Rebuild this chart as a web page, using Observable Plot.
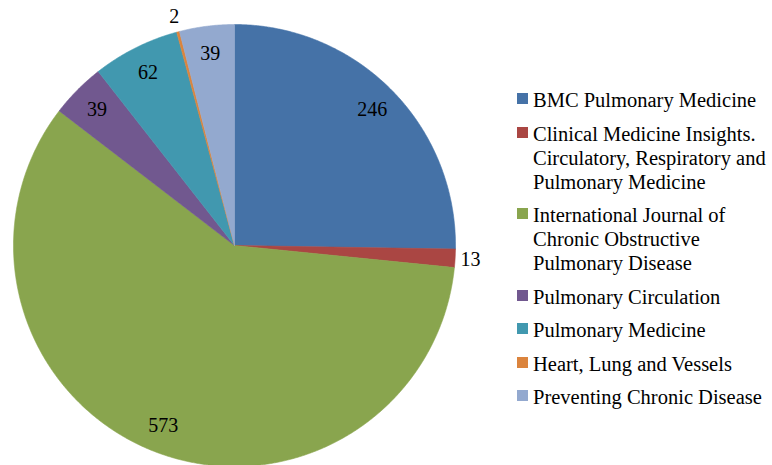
<!DOCTYPE html>
<html><head><meta charset="utf-8">
<script src="https://cdn.jsdelivr.net/npm/d3@7"></script>
<script src="https://cdn.jsdelivr.net/npm/@observablehq/plot@0.6"></script>
<style>
body{margin:0;background:#fff;}
#wrap{position:relative;width:772px;height:465px;overflow:hidden;font-family:"Liberation Serif",Tinos,"Times New Roman",Times,"DejaVu Serif",serif;}
#legend{position:absolute;left:517px;top:88px;color:#000;font-size:20.5px;font-family:"Liberation Serif",Tinos,"Times New Roman",Times,"DejaVu Serif",serif;}
.item{display:flex;align-items:flex-start;margin-bottom:9.5px;}
.sw{width:11px;height:11px;margin-top:5px;margin-right:5px;flex:none;}
.lbl{white-space:pre;line-height:24px;}
</style></head>
<body><div id="wrap"></div>
<script>
const journals = [
  "BMC Pulmonary Medicine",
  "Clinical Medicine Insights. Circulatory, Respiratory and Pulmonary Medicine",
  "International Journal of Chronic Obstructive Pulmonary Disease",
  "Pulmonary Circulation",
  "Pulmonary Medicine",
  "Heart, Lung and Vessels",
  "Preventing Chronic Disease"
];
const counts = [246, 13, 573, 39, 62, 2, 39];
const colors = ["#4572A7", "#AA4643", "#89A54E", "#71588F", "#4198AF", "#DB843D", "#93A9CF"];
const legendLabels = [
  "BMC Pulmonary Medicine",
  "Clinical Medicine Insights.\nCirculatory, Respiratory and\nPulmonary Medicine",
  "International Journal of\nChronic Obstructive\nPulmonary Disease",
  "Pulmonary Circulation",
  "Pulmonary Medicine",
  "Heart, Lung and Vessels",
  "Preventing Chronic Disease"
];

const W = 772, H = 465, cx = 234, cy = 245, R = 221;
const serif = "'Liberation Serif', Tinos, 'Times New Roman', Times, 'DejaVu Serif', serif";
const data = journals.map((name, i) => ({name, value: counts[i]}));
const arcs = d3.pie().sort(null).value(d => d.value).startAngle(0).endAngle(2 * Math.PI)(data);

const pts = [];
for (const a of arcs) {
  const name = a.data.name;
  pts.push({name, x: 0, y: 0});
  const n = Math.max(2, Math.ceil((a.endAngle - a.startAngle) / 0.005));
  for (let k = 0; k <= n; k++) {
    const t = a.startAngle + (a.endAngle - a.startAngle) * k / n;
    pts.push({name, x: Math.sin(t), y: -Math.cos(t)});
  }
  pts.push({name, x: 0, y: 0});
}
const labels = arcs.map(a => {
  const m = (a.startAngle + a.endAngle) / 2;
  const r = a.data.value >= 30 ? 0.875 : 1.07;
  return {x: r * Math.sin(m), y: -r * Math.cos(m), text: String(a.data.value)};
});

const chart = Plot.plot({
  width: W, height: H, margin: 0,
  style: {background: "transparent", fontFamily: serif},
  x: {domain: [-cx / R, (W - cx) / R], range: [0, W], axis: null},
  y: {domain: [-cy / R, (H - cy) / R], range: [0, H], axis: null},
  color: {domain: journals, range: colors},
  marks: [
    Plot.line(pts, {x: "x", y: "y", z: "name", fill: "name", stroke: "name", strokeWidth: 0.6, curve: "linear"}),
    Plot.text(labels, {x: "x", y: "y", text: "text", fontSize: 20, fontFamily: serif, fill: "#000"})
  ]
});
const wrap = document.getElementById("wrap");
wrap.appendChild(chart);

const leg = document.createElement("div");
leg.id = "legend";
legendLabels.forEach((l, i) => {
  const it = document.createElement("div");
  it.className = "item";
  const sw = document.createElement("span");
  sw.className = "sw";
  sw.style.background = colors[i];
  const tx = document.createElement("span");
  tx.className = "lbl";
  tx.textContent = l;
  it.appendChild(sw); it.appendChild(tx);
  leg.appendChild(it);
});
wrap.appendChild(leg);
</script>
</body></html>
